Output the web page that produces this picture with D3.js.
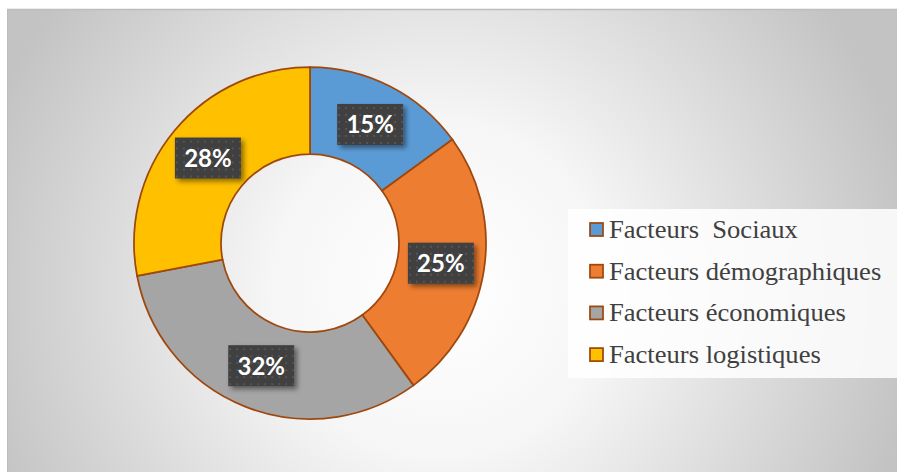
<!DOCTYPE html>
<html>
<head>
<meta charset="utf-8">
<script src="https://cdn.jsdelivr.net/npm/d3@7"></script>
<style>
  body { margin: 0; background: #fff; }
</style>
</head>
<body>
<div id="chart"></div>
<script>
// data
const categories = ["Facteurs  Sociaux", "Facteurs démographiques", "Facteurs économiques", "Facteurs logistiques"];
const values = [15, 25, 32, 28];
const labels = ["15%", "25%", "32%", "28%"];
const colors = ["#5B9BD5", "#ED7D31", "#A5A5A5", "#FFC000"];

const width = 897, height = 472;

const svg = d3.select("#chart")
  .append("svg")
  .attr("width", width)
  .attr("height", height);

const defs = svg.append("defs");

// background radial gradient
const grad = defs.append("radialGradient")
  .attr("id", "bg")
  .attr("gradientUnits", "userSpaceOnUse")
  .attr("cx", 440).attr("cy", 290).attr("r", 480);
grad.append("stop").attr("offset", "0").attr("stop-color", "#ffffff");
grad.append("stop").attr("offset", "0.35").attr("stop-color", "#f6f6f6");
grad.append("stop").attr("offset", "1").attr("stop-color", "#c3c3c3");

// dotted pattern for label boxes
const pat = defs.append("pattern")
  .attr("id", "dots")
  .attr("width", 7).attr("height", 7)
  .attr("patternUnits", "userSpaceOnUse");
pat.append("rect").attr("width", 7).attr("height", 7).attr("fill", "#3f3f3f");
pat.append("rect").attr("x", 3).attr("y", 3).attr("width", 2).attr("height", 2).attr("fill", "#555555");

const shadow = defs.append("filter")
  .attr("id", "shadow")
  .attr("x", "-20%").attr("y", "-20%").attr("width", "150%").attr("height", "160%");
shadow.append("feDropShadow")
  .attr("dx", 3).attr("dy", 3).attr("stdDeviation", 2.5)
  .attr("flood-color", "#000").attr("flood-opacity", 0.45);

// chart area
svg.append("rect")
  .attr("x", 7).attr("y", 9)
  .attr("width", width).attr("height", height)
  .attr("fill", "url(#bg)");
svg.append("line")
  .attr("x1", 7).attr("x2", width).attr("y1", 9.5).attr("y2", 9.5)
  .attr("stroke", "#bdbdbd").attr("stroke-width", 1.5);
svg.append("line")
  .attr("x1", 7.5).attr("x2", 7.5).attr("y1", 9).attr("y2", height)
  .attr("stroke", "#bdbdbd").attr("stroke-width", 1);

// donut
const cx = 310, cy = 243;
const outerR = 176, innerR = 89;

const pie = d3.pie().sort(null).value(d => d);
const arcs = pie(values);
const arc = d3.arc().innerRadius(innerR).outerRadius(outerR);
const labelArc = d3.arc().innerRadius((innerR + outerR) / 2).outerRadius((innerR + outerR) / 2);

const g = svg.append("g").attr("transform", `translate(${cx},${cy})`);

g.selectAll("path")
  .data(arcs)
  .enter()
  .append("path")
  .attr("d", arc)
  .attr("fill", (d, i) => colors[i])
  .attr("stroke", "#9E480E")
  .attr("stroke-width", 1.75);

// data labels
const lab = g.selectAll(".lab")
  .data(arcs)
  .enter()
  .append("g")
  .attr("transform", d => `translate(${labelArc.centroid(d)})`);

lab.append("rect")
  .attr("x", -33).attr("y", -21)
  .attr("width", 66).attr("height", 41)
  .attr("fill", "url(#dots)")
  .attr("filter", "url(#shadow)");

lab.append("text")
  .attr("text-anchor", "middle")
  .attr("dy", 8.5)
  .attr("font-family", "Lato, 'Open Sans', sans-serif")
  .attr("font-weight", "bold")
  .attr("font-size", "24px")
  .attr("fill", "#ffffff")
  .text((d, i) => labels[i]);

// legend
const legend = svg.append("g");
legend.append("rect")
  .attr("x", 568).attr("y", 209)
  .attr("width", width - 568).attr("height", 169)
  .attr("fill", "#ffffff").attr("fill-opacity", 0.85);

const items = legend.selectAll(".item")
  .data(categories)
  .enter()
  .append("g")
  .attr("transform", (d, i) => `translate(590, ${223 + i * 41.7})`);

items.append("rect")
  .attr("width", 13).attr("height", 13)
  .attr("fill", (d, i) => colors[i])
  .attr("stroke", "#9E480E")
  .attr("stroke-width", 1.75);

// text is a bit wider in the original, so stretch horizontally
items.append("text")
  .attr("transform", "translate(19,15) scale(1.085,1)")
  .attr("font-family", "'Liberation Serif', 'Times New Roman', serif")
  .attr("font-size", "24.5px")
  .attr("fill", "#404040")
  .attr("xml:space", "preserve")
  .style("white-space", "pre")
  .text(d => d);
</script>
</body>
</html>
